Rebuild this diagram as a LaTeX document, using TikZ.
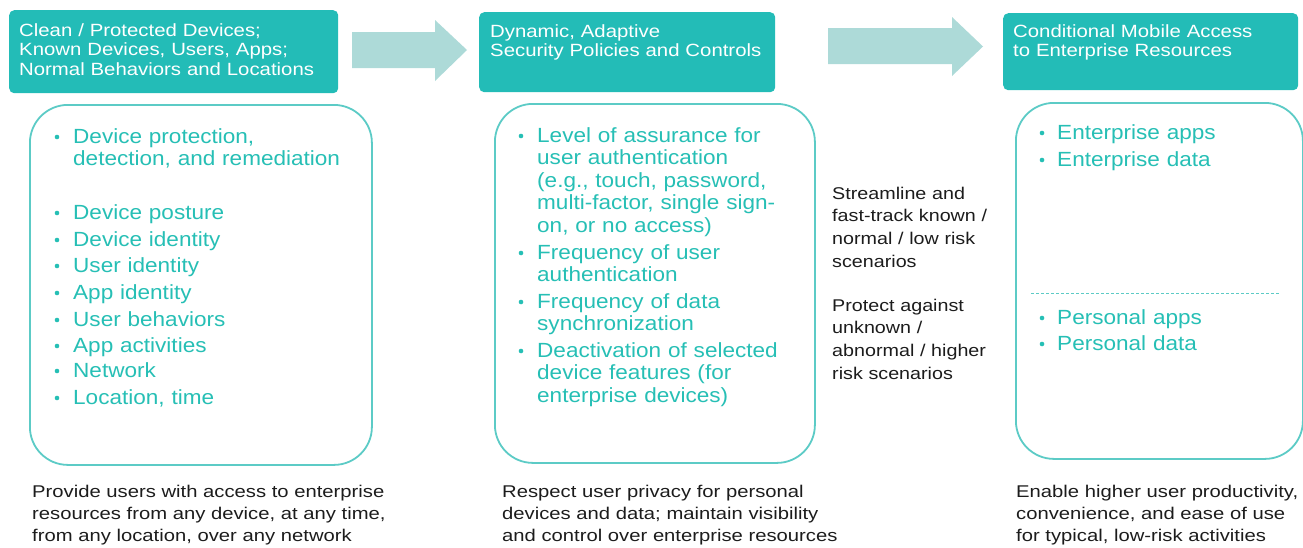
\documentclass[tikz,border=0pt]{standalone}
\usepackage{fontspec}
\setmainfont{Liberation Sans}
\newfontfamily\headfont[FakeStretch=1.15]{Liberation Sans}
\newfontfamily\itemfont[FakeStretch=1.1]{Liberation Sans}
\newfontfamily\notefont[FakeStretch=1.16]{Liberation Sans}
\newfontfamily\goalfont[FakeStretch=1.19]{Liberation Sans}

\definecolor{headteal}{RGB}{35,188,183}
\definecolor{arrowteal}{RGB}{173,218,216}
\definecolor{panelline}{RGB}{92,203,198}
\definecolor{itemteal}{RGB}{38,191,181}
\definecolor{notegray}{RGB}{28,28,28}

\tikzset{
  headbox/.style={fill=headteal, draw=none, rounded corners=5pt, anchor=north west, inner sep=0pt},
  panel/.style={draw=panelline, line width=1.8pt, fill=white, rounded corners=38pt, anchor=north west, inner sep=0pt},
  txt/.style={anchor=base west, inner sep=0pt, align=left, text width=#1},
  htext/.style={txt=#1, text=white,
    font=\headfont\fontsize{17.7}{19.6}\selectfont},
  htext/.default=282pt,
  itemtext/.style={txt=#1, text=itemteal,
    font=\itemfont\fontsize{20.5}{22.6}\selectfont},
  itemtext/.default=220pt,
  bul/.style={circle, fill=itemteal, draw=none, inner sep=0pt, minimum size=4.6pt},
  note/.style={txt=#1, text=notegray,
    font=\notefont\fontsize{17}{22.7}\selectfont},
  note/.default=170pt,
  goal/.style={txt=#1, text=notegray,
    font=\goalfont\fontsize{17}{22.2}\selectfont},
  goal/.default=285pt,
  blockarrow/.style={fill=arrowteal, draw=none},
  divider/.style={draw=panelline, line width=0.9pt, dash pattern=on 3pt off 2pt}
}

\begin{document}
\begin{tikzpicture}[x=1pt, y=-1pt]
\useasboundingbox (0,0) rectangle (1303,547);

% ---- stage headers ----
\node[headbox, minimum width=329pt, minimum height=83pt] (h1) at (9,10) {};
\node[headbox, minimum width=296pt, minimum height=80pt] (h2) at (479,12) {};
\node[headbox, minimum width=295pt, minimum height=77pt] (h3) at (1003,13) {};

\node[htext=318pt] (h1t) at (19,36) {Clean / Protected Devices;\\Known Devices, Users, Apps;\\Normal Behaviors and Locations};
\node[htext] (h2t) at (490,37) {Dynamic, Adaptive\\Security Policies and Controls};
\node[htext] (h3t) at (1013,37) {Conditional Mobile Access\\to Enterprise Resources};

% ---- block arrows between the stages ----
\fill[blockarrow] (352,32) -- (435,32) -- (435,20) -- (467,50) -- (435,81) -- (435,68) -- (352,68) -- cycle;
\fill[blockarrow] (828,28) -- (952,28) -- (952,17) -- (983,46.5) -- (952,76) -- (952,64) -- (828,64) -- cycle;

% ---- content panels ----
\node[panel, minimum width=342pt, minimum height=360pt] (p1) at (29,104) {};
\node[panel, minimum width=320pt, minimum height=359pt] (p2) at (494,103) {};
\node[panel, minimum width=287pt, minimum height=356pt] (p3) at (1015,102) {};

% panel 1 items
\node[bul] (b11) at (57,137) {};
\node[itemtext=290pt] (i11) at (73,143) {Device protection,\\detection, and remediation};
\node[bul] (b12) at (57,213) {};
\node[itemtext] (i12) at (73,219) {Device posture};
\node[bul] (b13) at (57,240) {};
\node[itemtext] (i13) at (73,246) {Device identity};
\node[bul] (b14) at (57,266) {};
\node[itemtext] (i14) at (73,272) {User identity};
\node[bul] (b15) at (57,293) {};
\node[itemtext] (i15) at (73,299) {App identity};
\node[bul] (b16) at (57,320) {};
\node[itemtext] (i16) at (73,326) {User behaviors};
\node[bul] (b17) at (57,346) {};
\node[itemtext] (i17) at (73,352) {App activities};
\node[bul] (b18) at (57,371) {};
\node[itemtext] (i18) at (73,377) {Network};
\node[bul] (b19) at (57,398) {};
\node[itemtext] (i19) at (73,404) {Location, time};

% panel 2 items
\node[bul] (b21) at (521,136) {};
\node[itemtext=260pt] (i21) at (537,142) {Level of assurance for\\user authentication\\(e.g., touch, password,\\multi-factor, single sign-\\on, or no access)};
\node[bul] (b22) at (521,253) {};
\node[itemtext=260pt] (i22) at (537,259) {Frequency of user\\authentication};
\node[bul] (b23) at (521,302) {};
\node[itemtext=260pt] (i23) at (537,308) {Frequency of data\\synchronization};
\node[bul] (b24) at (521,351) {};
\node[itemtext=260pt] (i24) at (537,357) {Deactivation of selected\\device features (for\\enterprise devices)};

% panel 3 items
\node[bul] (b31) at (1042,133) {};
\node[itemtext] (i31) at (1057,139) {Enterprise apps};
\node[bul] (b32) at (1042,160) {};
\node[itemtext] (i32) at (1057,166) {Enterprise data};
\coordinate (d1) at (1031,293);
\coordinate (d2) at (1279,293);
\draw[divider] (d1) -- (d2);
\node[bul] (b33) at (1042,318) {};
\node[itemtext] (i33) at (1057,324) {Personal apps};
\node[bul] (b34) at (1042,344) {};
\node[itemtext] (i34) at (1057,350) {Personal data};

% ---- risk notes between panels 2 and 3 ----
\node[note] (n1) at (832,199) {Streamline and\\fast-track known /\\normal / low risk\\scenarios};
\node[note] (n2) at (832,311) {Protect against\\unknown /\\abnormal / higher\\risk scenarios};

% ---- goals under each panel ----
\node[goal=365pt] (g1) at (32,497) {Provide users with access to enterprise\\resources from any device, at any time,\\from any location, over any network};
\node[goal=345pt] (g2) at (502,497) {Respect user privacy for personal\\devices and data; maintain visibility\\and control over enterprise resources};
\node[goal=286pt] (g3) at (1016,497) {Enable higher user productivity,\\convenience, and ease of use\\for typical, low-risk activities};
\end{tikzpicture}
\end{document}
